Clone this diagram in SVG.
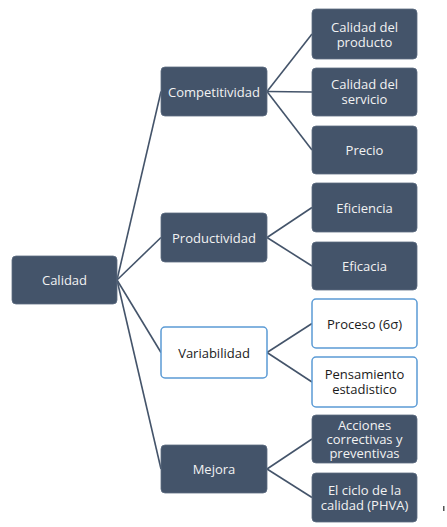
<svg xmlns="http://www.w3.org/2000/svg" width="447" height="527" viewBox="0 0 447 527">
<style>
.dark rect{fill:#44546A;stroke:#5d6c82;stroke-width:0.8}
.light rect{fill:#ffffff;stroke:#5B9BD5;stroke-width:1.5}
text{font-family:"Open Sans","Liberation Sans",sans-serif;font-size:13px;text-anchor:middle;dominant-baseline:central}
.dark text{fill:#F2F2F2}
.light text{fill:#1a1a1a}
#connectors line{stroke:#44546A;stroke-width:1.6}
</style>
<rect width="447" height="527" fill="#ffffff"/>
<g id="connectors">
<line x1="117" y1="280" x2="161" y2="91.5"/>
<line x1="117" y1="280" x2="161" y2="237.5"/>
<line x1="117" y1="280" x2="161" y2="352.5"/>
<line x1="117" y1="280" x2="161" y2="469"/>
<line x1="267" y1="91.5" x2="312" y2="34"/>
<line x1="267" y1="91.5" x2="312" y2="92"/>
<line x1="267" y1="91.5" x2="312" y2="150"/>
<line x1="267" y1="237.5" x2="312" y2="207.5"/>
<line x1="267" y1="237.5" x2="312" y2="266"/>
<line x1="267" y1="352.5" x2="312" y2="323.5"/>
<line x1="267" y1="352.5" x2="312" y2="382"/>
<line x1="267" y1="469" x2="312" y2="439"/>
<line x1="267" y1="469" x2="312" y2="497.5"/>
</g>
<g id="calidad" class="dark"><rect x="12" y="256" width="105" height="48" rx="4"/><text x="64.5" y="280">Calidad</text></g>
<g id="competitividad" class="dark"><rect x="161" y="67" width="106" height="49" rx="4"/><text x="214" y="91.5">Competitividad</text></g>
<g id="productividad" class="dark"><rect x="161" y="213" width="106" height="49" rx="4"/><text x="214" y="237.5">Productividad</text></g>
<g id="variabilidad" class="light"><rect x="161" y="327" width="106" height="51" rx="4"/><text x="214" y="352.5">Variabilidad</text></g>
<g id="mejora" class="dark"><rect x="161" y="445" width="106" height="48" rx="4"/><text x="214" y="469">Mejora</text></g>
<g id="calidad-producto" class="dark"><rect x="312" y="9" width="105" height="50" rx="4"/><text x="364.5" y="27">Calidad del</text><text x="364.5" y="42">producto</text></g>
<g id="calidad-servicio" class="dark"><rect x="312" y="68" width="105" height="48" rx="4"/><text x="364.5" y="84">Calidad del</text><text x="364.5" y="99">servicio</text></g>
<g id="precio" class="dark"><rect x="312" y="126" width="105" height="48" rx="4"/><text x="364.5" y="150">Precio</text></g>
<g id="eficiencia" class="dark"><rect x="312" y="183" width="105" height="49" rx="4"/><text x="364.5" y="207.5">Eficiencia</text></g>
<g id="eficacia" class="dark"><rect x="312" y="242" width="105" height="48" rx="4"/><text x="364.5" y="266">Eficacia</text></g>
<g id="proceso" class="light"><rect x="312" y="299" width="105" height="49" rx="4"/><text x="364.5" y="323.5">Proceso (6σ)</text></g>
<g id="pensamiento" class="light"><rect x="312" y="357" width="105" height="50" rx="4"/><text x="364.5" y="374">Pensamiento</text><text x="364.5" y="389">estadistico</text></g>
<g id="acciones" class="dark"><rect x="312" y="415" width="105" height="48" rx="4"/><text x="364.5" y="425">Acciones</text><text x="364.5" y="439">correctivas y</text><text x="364.5" y="453">preventivas</text></g>
<g id="ciclo" class="dark"><rect x="312" y="473" width="105" height="49" rx="4"/><text x="364.5" y="490">El ciclo de la</text><text x="364.5" y="505">calidad (PHVA)</text></g>
<rect x="443" y="506" width="1.5" height="5" fill="#555"/>
</svg>
